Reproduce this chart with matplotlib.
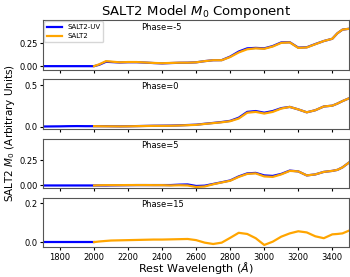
import numpy as np
import matplotlib
matplotlib.use('Agg')
import matplotlib.pyplot as plt

# SALT2-UV region below 2000 A (blue only)
wave_uv = [1700, 1750, 1800, 1850, 1900, 1950, 2000]
uv_low = {
    -5: [0.0, 0.0, 0.0, 0.0, 0.0, 0.0, 0.0],
    0: [0.004, 0.005, 0.006, 0.008, 0.009, 0.008, 0.008],
    5: [0.0, 0.0, 0.0, 0.0, 0.0, 0.0, 0.0],
    15: [0.0, 0.0, 0.0, 0.0, 0.0, 0.0, 0.0],
}

# SALT2 curves from 2000 A
wave = [2000, 2030, 2070, 2100, 2150, 2200, 2250, 2300, 2350, 2400, 2450,
        2500, 2550, 2600, 2650, 2700, 2750, 2800, 2850, 2900, 2950, 3000,
        3050, 3100, 3150, 3200, 3250, 3300, 3350, 3400, 3430, 3460, 3500]
salt2 = {
    -5: [0.0, 0.02, 0.055, 0.05, 0.042, 0.045, 0.045, 0.04, 0.035, 0.032,
         0.035, 0.038, 0.038, 0.042, 0.055, 0.065, 0.065, 0.1, 0.15, 0.185,
         0.195, 0.19, 0.215, 0.255, 0.26, 0.2, 0.205, 0.24, 0.275, 0.3,
         0.36, 0.4, 0.41],
    0: [0.008, 0.007, 0.006, 0.006, 0.005, 0.006, 0.008, 0.01, 0.012, 0.012,
        0.013, 0.016, 0.02, 0.024, 0.035, 0.045, 0.055, 0.068, 0.1, 0.17,
        0.18, 0.16, 0.18, 0.22, 0.24, 0.21, 0.175, 0.2, 0.245, 0.255,
        0.28, 0.31, 0.345],
    5: [0.0, 0.002, 0.003, 0.003, 0.003, 0.004, 0.004, 0.004, 0.003, 0.003,
        0.0, 0.002, 0.0, -0.015, -0.01, 0.012, 0.03, 0.047, 0.085, 0.115,
        0.12, 0.09, 0.085, 0.11, 0.145, 0.14, 0.1, 0.11, 0.135, 0.145,
        0.155, 0.18, 0.23],
    15: [0.0, 0.003, 0.006, 0.008, 0.009, 0.01, 0.011, 0.012, 0.013, 0.013,
         0.014, 0.015, 0.016, 0.01, -0.003, -0.01, -0.003, 0.022, 0.048,
         0.042, 0.02, -0.015, 0.002, 0.028, 0.045, 0.056, 0.05, 0.03, 0.02,
         0.04, 0.042, 0.045, 0.06],
}
# SALT2-UV overlap region (slightly different in places)
salt2uv = {
    -5: [0.0, 0.015, 0.048, 0.045, 0.04, 0.043, 0.043, 0.039, 0.034, 0.03,
         0.034, 0.037, 0.038, 0.042, 0.055, 0.065, 0.066, 0.105, 0.16, 0.195,
         0.2, 0.195, 0.22, 0.26, 0.262, 0.203, 0.207, 0.242, 0.275, 0.3,
         0.36, 0.4, 0.41],
    0: [0.008, 0.008, 0.008, 0.007, 0.006, 0.007, 0.009, 0.011, 0.013, 0.014,
        0.015, 0.018, 0.022, 0.026, 0.037, 0.047, 0.058, 0.072, 0.11, 0.18,
        0.19, 0.17, 0.19, 0.225, 0.24, 0.21, 0.175, 0.2, 0.245, 0.255,
        0.28, 0.31, 0.345],
    5: [0.0, 0.0, 0.0, 0.001, 0.002, 0.003, 0.004, 0.004, 0.004, 0.004,
        0.004, 0.008, 0.01, -0.005, -0.002, 0.015, 0.032, 0.05, 0.09, 0.12,
        0.125, 0.1, 0.095, 0.115, 0.148, 0.14, 0.1, 0.11, 0.135, 0.145,
        0.155, 0.18, 0.23],
    15: None,
}

phases = [-5, 0, 5, 15]
ylims = [(-0.043, 0.5), (-0.027, 0.57), (-0.026, 0.467), (-0.026, 0.231)]
yticks = [[0.0, 0.25], [0.0, 0.5], [0.0, 0.25], [0.0, 0.2]]
yticklabels = [['0.00', '0.25'], ['0.0', '0.5'], ['0.00', '0.25'], ['0.0', '0.2']]

fig, axes = plt.subplots(4, 1, sharex=True, figsize=(3.5, 2.77), dpi=100)
fig.subplots_adjust(left=0.123, right=0.998, top=0.926, bottom=0.108, hspace=0.19)

for i, (ax, ph) in enumerate(zip(axes, phases)):
    uvw = wave_uv
    uvf = uv_low[ph]
    if salt2uv[ph] is not None:
        uvw = wave_uv + wave[1:]
        uvf = uv_low[ph] + salt2uv[ph][1:]
    ax.plot(uvw, uvf, color='blue', lw=1.6, label='SALT2-UV')
    ax.plot(wave, salt2[ph], color='orange', lw=1.6, label='SALT2')
    ax.text(0.32, 0.86, 'Phase=%d' % ph, transform=ax.transAxes,
            ha='left', va='center', fontsize=6)
    ax.set_ylim(ylims[i])
    ax.set_yticks(yticks[i])
    ax.set_yticklabels(yticklabels[i])
    ax.tick_params(labelsize=6, length=2.5, width=0.8, pad=1.5)
    ax.set_xlim(1700, 3500)
    for s in ax.spines.values():
        s.set_color('#555555')

axes[-1].set_xticks([1800, 2000, 2200, 2400, 2600, 2800, 3000, 3200, 3400])
axes[0].legend(loc='upper left', fontsize=5, handlelength=2.2,
               borderaxespad=0.1, framealpha=0.8)
axes[0].set_title(r'SALT2 Model $M_0$ Component', fontsize=9.5, pad=4)
fig.text(0.56, 0.002, r'Rest Wavelength ($\AA$)', ha='center', va='bottom',
         fontsize=8)
fig.text(0.03, 0.52, r'SALT2 $M_0$ (Arbitrary Units)', rotation=90,
         ha='center', va='center', fontsize=7.5)

plt.savefig('out.png', dpi=100)
